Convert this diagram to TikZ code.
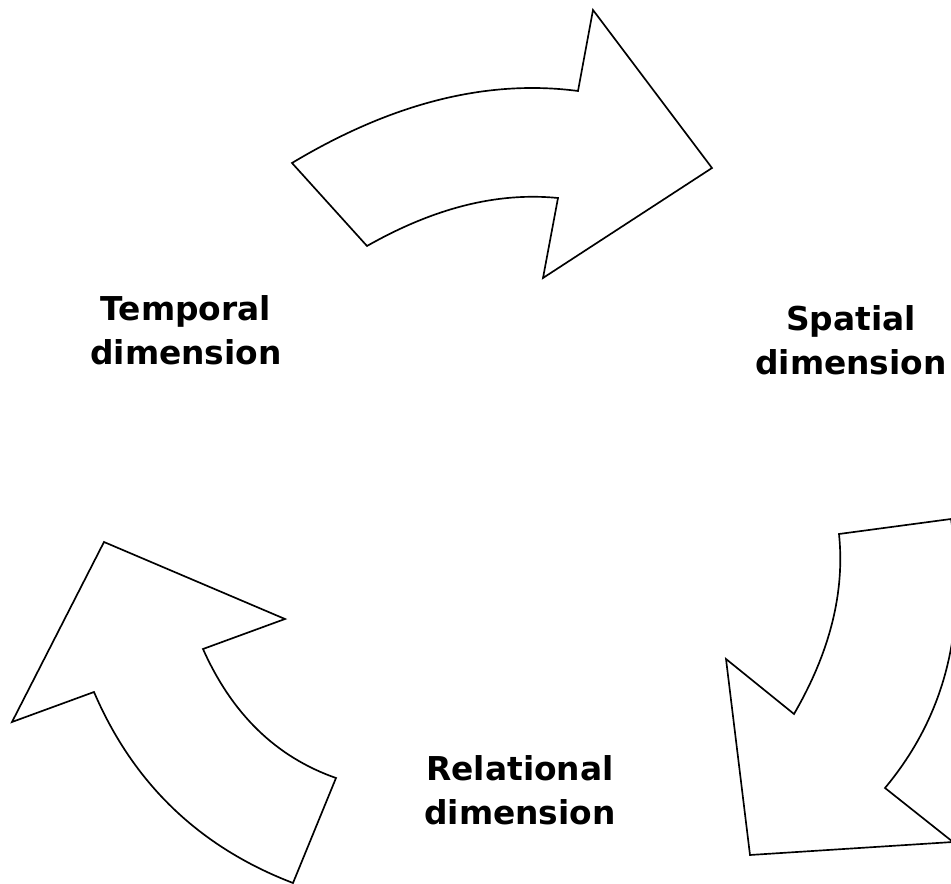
\documentclass[tikz,border=0pt]{standalone}
\usepackage{fontspec}
\setsansfont{DejaVu Sans}
\tikzset{
	cyclearrow/.style={draw, line width=0.95pt, line join=miter, fill=white},
	dimlabel/.style={align=center, inner sep=0pt, font=\sffamily\bfseries\fontsize{18.7pt}{25pt}\selectfont}
}
\begin{document}
\begin{tikzpicture}[x=0.02cm, y=-0.02cm]
		\useasboundingbox (0,0) rectangle (951,884);
		%Fleche du haut
		\draw[cyclearrow] (292,163) .. controls (392,103) and (487,79) .. (578,91)
			-- (593,10) -- (712,168) -- (543,278) -- (558,198)
			.. controls (497,192) and (434,208) .. (367,246) -- cycle;
		%Fleche de droite
		\draw[cyclearrow] (951,519) .. controls (968,628) and (945,716) .. (885,788)
			-- (953,842) -- (750,855) -- (726,659) -- (794,714)
			.. controls (830,652) and (845,592) .. (839,534) -- cycle;
		%Fleche de gauche
		\draw[cyclearrow] (104,542) -- (285,619) -- (203,649)
			.. controls (232,714) and (276,757) .. (336,778) -- (293,883)
			.. controls (199,847) and (133,783) .. (94,692) -- (12,722) -- cycle;
		%Etiquettes
		\node[dimlabel] (temporal) at (186,330) {Temporal\\dimension};
		\node[dimlabel] (spatial) at (851,340) {Spatial\\dimension};
		\node[dimlabel] (relational) at (520,790) {Relational\\dimension};
\end{tikzpicture}
\end{document}
